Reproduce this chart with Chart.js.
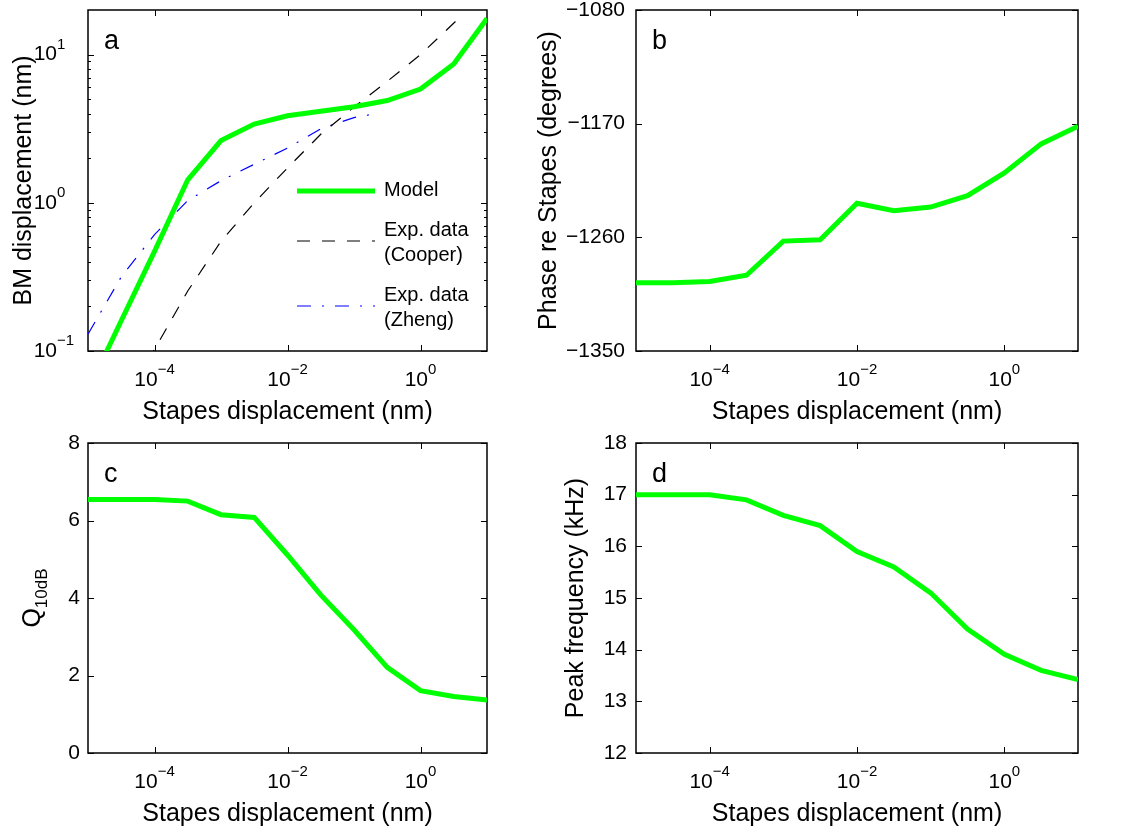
<!DOCTYPE html>
<html>
<head>
<meta charset="utf-8">
<title>BM response vs stapes displacement</title>
<script src="https://cdn.jsdelivr.net/npm/chart.js@4.4.1/dist/chart.umd.min.js"></script>
<style>
  html, body { margin: 0; padding: 0; background: #fff; }
  #figure { position: relative; width: 1122px; height: 832px; overflow: hidden; }
  #figure canvas { position: absolute; }
</style>
</head>
<body>
<div id="figure">
  <canvas id="panelA" width="530" height="440" style="left:0;top:0"></canvas>
  <canvas id="panelB" width="592" height="440" style="left:530px;top:0"></canvas>
  <canvas id="panelC" width="530" height="412" style="left:0;top:420px"></canvas>
  <canvas id="panelD" width="592" height="412" style="left:530px;top:420px"></canvas>
</div>
<script>
// model runs: stapes displacement in nm (half-decade steps)
const stapesNm = [1e-5, 3.16e-5, 1e-4, 3.16e-4, 1e-3, 3.16e-3, 1e-2, 3.16e-2, 0.1, 0.316, 1, 3.16, 10];

// panel a - BM displacement (nm)
const modelBm = [0.054, 0.16, 0.47, 1.43, 2.63, 3.40, 3.87, 4.15, 4.45, 4.90, 5.85, 8.65, 17.5];
const cooperStapes = [7.9e-5, 3.16e-4, 1e-3, 3.16e-3, 1e-2, 3.16e-2, 0.1, 0.316, 1, 4.0];
const cooperBm = [0.085, 0.254, 0.55, 1.0, 1.72, 2.90, 4.42, 6.6, 10.0, 18.0];
const zhengStapes = [1e-5, 3.16e-5, 1e-4, 3.16e-4, 1e-3, 3.16e-3, 1e-2, 3.16e-2, 0.1, 0.178];
const zhengBm = [0.13, 0.316, 0.61, 1.035, 1.41, 1.82, 2.34, 3.16, 3.76, 3.94];

// panel b - phase re stapes (degrees)
const phaseDeg = [-1296, -1296, -1295, -1290, -1263, -1262, -1233, -1239, -1236, -1227, -1209, -1186, -1172];
// panel c - Q10dB
const q10dB = [6.54, 6.54, 6.54, 6.50, 6.15, 6.08, 5.11, 4.08, 3.18, 2.21, 1.61, 1.46, 1.37];
// panel d - peak frequency (kHz)
const peakKHz = [17.0, 17.0, 17.0, 16.9, 16.6, 16.4, 15.9, 15.6, 15.1, 14.4, 13.91, 13.6, 13.42];

// tick positions
const stapesTicks = [1e-4, 1e-2, 1];
const bmTicks = [0.1, 1, 10];
const bmMinorTicks = [0.2, 0.3, 0.4, 0.5, 0.6, 0.7, 0.8, 0.9, 2, 3, 4, 5, 6, 7, 8, 9];

const FONT = "'Liberation Sans', Arial, Helvetica, sans-serif";
const GREEN = '#00ff00';

Chart.defaults.font.family = FONT;
Chart.defaults.color = '#000';
Chart.defaults.animation = false;

function zip(xs, ys) {
    return xs.map((x, i) => ({ x: x, y: ys[i] }));
}

function minusSign(v) {
    return v < 0 ? '\u2212' + Math.abs(v) : String(v);
}

// draws "10" with a raised exponent
function drawPower(ctx, value, x, y, align) {
    const exp = Math.round(Math.log10(value));
    const expText = minusSign(exp);
    ctx.font = `21px ${FONT}`;
    const wBase = ctx.measureText('10').width;
    ctx.font = `15px ${FONT}`;
    const wExp = ctx.measureText(expText).width;
    const start = align === 'center' ? x - (wBase + wExp) / 2 : x - wBase;
    ctx.textAlign = 'left';
    ctx.textBaseline = 'middle';
    ctx.font = `21px ${FONT}`;
    ctx.fillText('10', start, y);
    ctx.font = `15px ${FONT}`;
    ctx.fillText(expText, start + wBase, y - 10);
}

function line(ctx, x1, y1, x2, y2) {
    ctx.beginPath();
    ctx.moveTo(x1, y1);
    ctx.lineTo(x2, y2);
    ctx.stroke();
}

// Matlab-like box, inward ticks and the texts
const matlabAxes = {
    id: 'matlabAxes',
    beforeDatasetsDraw(chart, args, o) {
        const ctx = chart.ctx;
        const area = chart.chartArea;
        const xs = chart.scales.x, ys = chart.scales.y;
        ctx.save();
        ctx.strokeStyle = '#000';
        ctx.lineWidth = 1;
        xs.ticks.forEach(t => {
            const px = Math.round(xs.getPixelForValue(t.value)) + 0.5;
            line(ctx, px, area.bottom, px, area.bottom - 6);
            line(ctx, px, area.top, px, area.top + 6);
        });
        ys.ticks.forEach(t => {
            const py = Math.round(ys.getPixelForValue(t.value)) + 0.5;
            line(ctx, area.left, py, area.left + 6, py);
            line(ctx, area.right, py, area.right - 6, py);
        });
        (o.yMinor || []).forEach(v => {
            const py = Math.round(ys.getPixelForValue(v)) + 0.5;
            line(ctx, area.left, py, area.left + 3, py);
            line(ctx, area.right, py, area.right - 3, py);
        });
        ctx.lineWidth = 1.5;
        ctx.strokeRect(area.left, area.top, area.right - area.left, area.bottom - area.top);
        ctx.restore();
    },
    afterDraw(chart, args, o) {
        const ctx = chart.ctx;
        const area = chart.chartArea;
        const xs = chart.scales.x, ys = chart.scales.y;
        ctx.save();
        ctx.fillStyle = '#000';

        // panel letter
        ctx.font = `27px ${FONT}`;
        ctx.textAlign = 'left';
        ctx.textBaseline = 'alphabetic';
        ctx.fillText(o.letter, area.left + 16, area.top + 39);

        // log tick labels
        xs.ticks.forEach(t => drawPower(ctx, t.value, xs.getPixelForValue(t.value), area.bottom + 29, 'center'));
        if (o.logY) {
            ys.ticks.forEach(t => drawPower(ctx, t.value, area.left - 31, ys.getPixelForValue(t.value), 'right'));
        }

        // x title
        ctx.font = `25px ${FONT}`;
        ctx.textAlign = 'center';
        ctx.textBaseline = 'alphabetic';
        ctx.fillText('Stapes displacement (nm)', (area.left + area.right) / 2, area.bottom + 68);

        // y title
        const midY = (area.top + area.bottom) / 2;
        ctx.save();
        ctx.translate(o.yTitleX, midY);
        ctx.rotate(-Math.PI / 2);
        if (o.yTitleSub) {
            ctx.font = `25px ${FONT}`;
            const wMain = ctx.measureText(o.yTitle).width;
            ctx.font = `17px ${FONT}`;
            const wSub = ctx.measureText(o.yTitleSub).width;
            const start = -(wMain + wSub) / 2;
            ctx.textAlign = 'left';
            ctx.textBaseline = 'alphabetic';
            ctx.font = `25px ${FONT}`;
            ctx.fillText(o.yTitle, start, 0);
            ctx.font = `17px ${FONT}`;
            ctx.fillText(o.yTitleSub, start + wMain, 7);
        } else {
            ctx.font = `25px ${FONT}`;
            ctx.textAlign = 'center';
            ctx.textBaseline = 'middle';
            ctx.fillText(o.yTitle, 0, 0);
        }
        ctx.restore();

        // legend (panel a only)
        if (o.legend) {
            const lg = o.legend;
            chart.data.datasets.forEach((ds, i) => {
                const y = lg.rows[i];
                ctx.save();
                ctx.strokeStyle = ds.borderColor;
                ctx.lineWidth = ds.borderWidth;
                ctx.setLineDash(ds.borderDash || []);
                line(ctx, lg.x1, y, lg.x2, y);
                ctx.restore();
                const parts = ds.label.split('\n');
                ctx.font = `20px ${FONT}`;
                ctx.textAlign = 'left';
                ctx.textBaseline = 'middle';
                if (parts.length === 1) {
                    ctx.fillText(parts[0], lg.tx, y - 1);
                } else {
                    ctx.fillText(parts[0], lg.tx, y - 11);
                    ctx.fillText(parts[1], lg.tx, y + 14);
                }
            });
        }
        ctx.restore();
    }
};

function fixedSize(size) {
    return scale => {
        if (scale.isHorizontal()) {
            scale.height = size;
        } else {
            scale.width = size;
        }
        scale.paddingTop = 0;
        scale.paddingBottom = 0;
        scale.paddingLeft = 0;
        scale.paddingRight = 0;
    };
}

function setTicks(values) {
    return scale => {
        scale.ticks = values.map(v => ({ value: v }));
    };
}

function modelLine(ys) {
    return {
        label: 'Model',
        data: zip(stapesNm, ys),
        borderColor: GREEN,
        borderWidth: 5,
        pointRadius: 0,
        tension: 0,
        fill: false
    };
}

function linearY(min, max, step, pad) {
    return {
        type: 'linear',
        min: min,
        max: max,
        ticks: {
            stepSize: step,
            padding: pad,
            font: { size: 21 },
            color: '#000',
            callback: v => minusSign(v)
        },
        grid: { display: false, drawTicks: false },
        border: { display: false }
    };
}

function makePanel(canvasId, p) {
    return new Chart(document.getElementById(canvasId), {
        type: 'line',
        data: { datasets: p.datasets },
        options: {
            responsive: false,
            animation: false,
            events: [],
            layout: { padding: { left: 0, top: p.padTop, right: p.padRight, bottom: 0 } },
            plugins: {
                legend: { display: false },
                tooltip: { enabled: false },
                matlabAxes: p.axes
            },
            scales: {
                x: {
                    type: 'logarithmic',
                    min: 1e-5,
                    max: 10,
                    ticks: { display: false },
                    grid: { display: false, drawTicks: false },
                    border: { display: false },
                    afterBuildTicks: setTicks(stapesTicks),
                    afterFit: fixedSize(p.xHeight)
                },
                y: Object.assign(p.y, { afterFit: fixedSize(p.yWidth) })
            }
        },
        plugins: [matlabAxes]
    });
}

// a: BM displacement, log-log with legend
makePanel('panelA', {
    padTop: 10, padRight: 43, xHeight: 89, yWidth: 88,
    y: {
        type: 'logarithmic',
        min: 0.1,
        max: 20,
        ticks: { display: false },
        grid: { display: false, drawTicks: false },
        border: { display: false },
        afterBuildTicks: setTicks(bmTicks)
    },
    datasets: [
        modelLine(modelBm),
        {
            label: 'Exp. data\n(Cooper)',
            data: zip(cooperStapes, cooperBm),
            borderColor: '#000000',
            borderWidth: 1.2,
            borderDash: [13, 12],
            pointRadius: 0,
            tension: 0,
            fill: false
        },
        {
            label: 'Exp. data\n(Zheng)',
            data: zip(zhengStapes, zhengBm),
            borderColor: '#0000ff',
            borderWidth: 1.2,
            borderDash: [14, 11, 2, 11],
            pointRadius: 0,
            tension: 0,
            fill: false
        }
    ],
    axes: {
        letter: 'a', logY: true, yMinor: bmMinorTicks,
        yTitle: 'BM displacement (nm)', yTitleX: 24,
        legend: { x1: 297, x2: 375, tx: 384, rows: [191, 241, 306] }
    }
});

// b: phase
makePanel('panelB', {
    padTop: 10, padRight: 44, xHeight: 89, yWidth: 106,
    y: linearY(-1350, -1080, 90, 11),
    datasets: [modelLine(phaseDeg)],
    axes: { letter: 'b', yTitle: 'Phase re Stapes (degrees)', yTitleX: 19 }
});

// c: Q10dB
makePanel('panelC', {
    padTop: 23, padRight: 43, xHeight: 79, yWidth: 88,
    y: linearY(0, 8, 2, 8),
    datasets: [modelLine(q10dB)],
    axes: { letter: 'c', yTitle: 'Q', yTitleSub: '10dB', yTitleX: 40 }
});

// d: peak frequency
makePanel('panelD', {
    padTop: 23, padRight: 44, xHeight: 79, yWidth: 106,
    y: linearY(12, 18, 1, 9),
    datasets: [modelLine(peakKHz)],
    axes: { letter: 'd', yTitle: 'Peak frequency (kHz)', yTitleX: 46 }
});
</script>
</body>
</html>
